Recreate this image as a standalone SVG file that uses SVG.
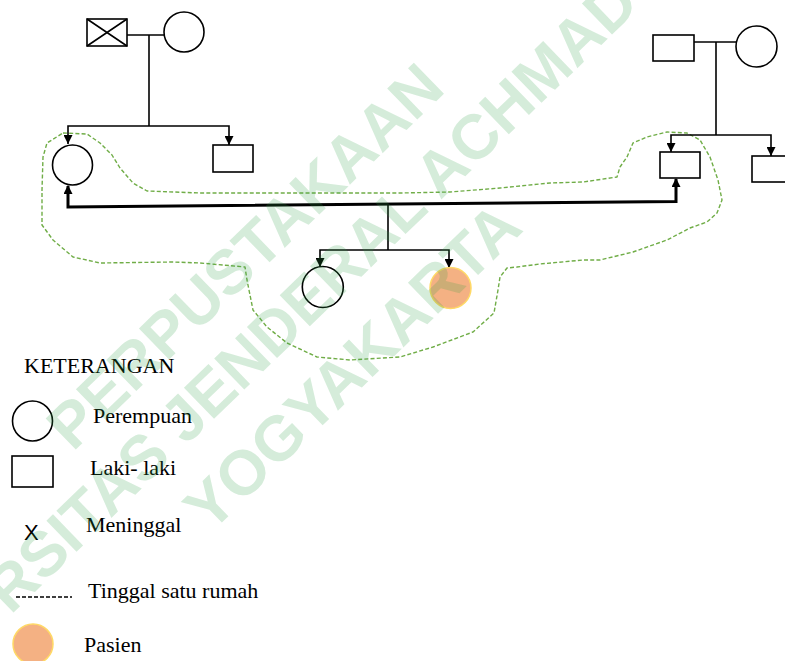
<svg xmlns="http://www.w3.org/2000/svg" width="785" height="661" viewBox="0 0 785 661">
<style>
.sym{fill:#fff;stroke:#000;stroke-width:1.6}
.ln{fill:none;stroke:#000;stroke-width:1.6}
.thick{fill:none;stroke:#000;stroke-width:3}
.pat{fill:#F4B183;stroke:#FFD966;stroke-width:1.5}
.house{fill:none;stroke:#70AD47;stroke-width:1.4;stroke-dasharray:4 2.2;stroke-linejoin:round}
.lbl{font-family:"Liberation Serif","Times New Roman",serif;font-size:22px;fill:#000}
.wm{font-family:"Liberation Sans",Arial,sans-serif;font-weight:bold;font-size:63px;fill:#2E9E48;fill-opacity:0.2}
</style>
<defs>
<marker id="ah" viewBox="0 0 9 9" markerWidth="9" markerHeight="9" markerUnits="userSpaceOnUse" refX="9" refY="4.5" orient="auto-start-reverse">
<path d="M0,0 L9,4.5 L0,9 z" fill="#000"/>
</marker>
<marker id="ahb" viewBox="0 0 9 9" markerWidth="9" markerHeight="9" markerUnits="userSpaceOnUse" refX="8" refY="4.5" orient="auto-start-reverse">
<path d="M0,0 L9,4.5 L0,9 z" fill="#000"/>
</marker>
</defs>

<g id="household">
<path class="house" d="M63,133 L87,134 L100,143 L112,155 L120,168 L133,183 L147,191 L200,193 L300,193 L400,193 L450,192 L500,188 L550,183 L583,182 L617,177 L620,167 L627,157 L633,143 L647,137 L667,132 L687,133 L700,140 L710,157 L718,180 L722,200 L717,213 L707,222 L690,228 L667,240 L633,252 L600,260 L583,260 L540,264 L517,267 L507,268 L500,277 L498,290 L494,313 L473,332 L433,347 L400,357 L350,360 L317,357 L287,343 L267,327 L253,310 L247,280 L245,267 L200,263 L173,262 L100,263 L73,257 L53,240 L42,225 L42,190 L43,157 L47,143 Z"/>
</g>

<g id="connectors">
<line class="ln" x1="127" y1="35" x2="164" y2="35"/>
<line class="ln" x1="149" y1="35" x2="149" y2="126"/>
<path class="ln" d="M68,144 L68,126 L229,126 L229,145" marker-start="url(#ah)" marker-end="url(#ah)"/>
<line class="ln" x1="694" y1="42" x2="736" y2="42"/>
<line class="ln" x1="716" y1="42" x2="716" y2="135"/>
<path class="ln" d="M671,152 L671,135 L771,135 L771,156" marker-start="url(#ah)" marker-end="url(#ah)"/>
<path class="thick" d="M68,186 L68,207 L676,201.5 L676,179" marker-start="url(#ahb)" marker-end="url(#ahb)"/>
<line class="ln" x1="388" y1="204" x2="388" y2="250"/>
<path class="ln" d="M320,267 L320,250 L449,250 L449,268" marker-start="url(#ah)" marker-end="url(#ah)"/>
</g>

<g id="grandfather-paternal">
<rect class="sym" x="87" y="19" width="40" height="27"/>
<path class="ln" d="M87,19 L127,46 M127,19 L87,46"/>
</g>
<g id="grandmother-paternal"><circle class="sym" cx="184" cy="32" r="20"/></g>
<g id="mother"><circle class="sym" cx="72.5" cy="165" r="20"/></g>
<g id="uncle-left"><rect class="sym" x="213" y="145" width="40" height="27"/></g>
<g id="grandfather-maternal"><rect class="sym" x="653" y="35" width="41" height="26"/></g>
<g id="grandmother-maternal"><circle class="sym" cx="756.5" cy="46.5" r="20.5"/></g>
<g id="father"><rect class="sym" x="660" y="152" width="40" height="26"/></g>
<g id="uncle-right"><rect class="sym" x="752" y="156" width="40" height="26"/></g>
<g id="sister"><circle class="sym" cx="322.8" cy="287" r="20.5"/></g>
<g id="patient"><circle class="pat" cx="450.5" cy="288" r="20.5"/></g>

<g id="legend">
<text class="lbl" x="24" y="373">KETERANGAN</text>
<circle class="sym" cx="32.5" cy="421" r="20"/>
<text class="lbl" x="93" y="423">Perempuan</text>
<rect class="sym" x="12" y="456" width="41" height="31"/>
<text class="lbl" x="90" y="475">Laki- laki</text>
<text x="24" y="540" style="font-family:'Liberation Sans',Arial,sans-serif;font-size:22px;fill:#000">X</text>
<text class="lbl" x="86" y="532">Meninggal</text>
<line x1="16" y1="597" x2="72" y2="597" stroke="#000" stroke-width="1.5" stroke-dasharray="4 2"/>
<text class="lbl" x="88" y="598">Tinggal satu rumah</text>
<circle class="pat" cx="33" cy="644" r="20"/>
<text class="lbl" x="84" y="652">Pasien</text>
</g>

<g id="watermark" transform="rotate(-44)">
<text class="wm" x="-262" y="376">PERPUSTAKAAN</text>
<text class="wm" x="-420" y="450">RSITAS JENDERAL ACHMAD</text>
<text class="wm" x="-220" y="530">YOGYAKARTA</text>
</g>
</svg>
